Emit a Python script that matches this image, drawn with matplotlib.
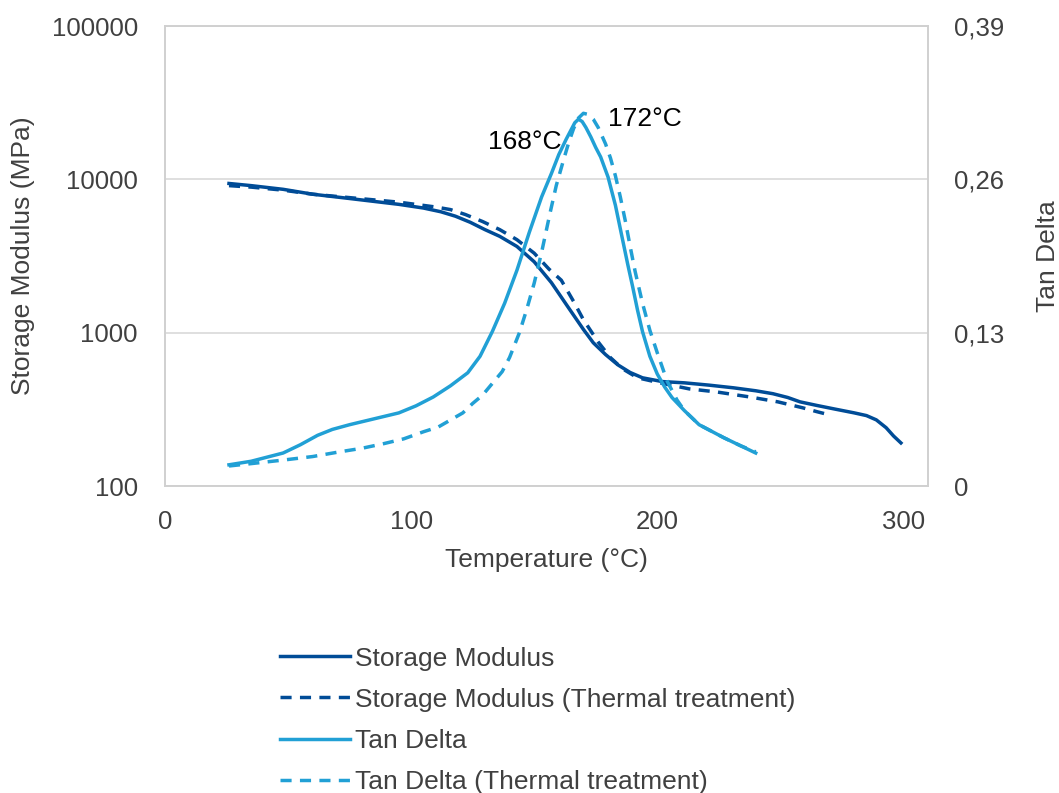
import matplotlib
matplotlib.use('Agg')
import matplotlib.pyplot as plt
from matplotlib.ticker import FixedLocator, NullLocator

plt.rcParams['font.family'] = ['Liberation Sans', 'DejaVu Sans']

DARK_BLUE = '#004C97'
LIGHT_BLUE = '#21A0D5'
TEXT_GRAY = '#404040'
FRAME_GRAY = '#D0D0D0'

# Storage modulus (MPa)
sm_temp = [26, 35, 48, 60, 75, 95, 105, 112, 118, 124, 130, 136, 143, 150, 157, 164, 170,
           174, 179, 184, 189, 194, 202, 211, 221, 231, 240, 247, 253, 258, 265, 272,
           280, 285, 289, 293, 296, 299]
sm_value = [9400, 9100, 8610, 8000, 7500, 6870, 6500, 6150, 5750, 5250, 4700, 4250, 3650,
            2900, 2120, 1450, 1050, 860, 720, 617, 550, 508, 480, 471, 455, 437, 418, 400,
            378, 354, 335, 318, 300, 288, 270, 240, 212, 191]

sm_tt_temp = [26, 35, 48, 60, 75, 95, 110, 116, 122, 129, 136, 143, 150, 156, 161, 166,
              170, 176, 181, 186, 192, 201, 213, 224, 238, 249, 259, 265, 270]
sm_tt_value = [9100, 8900, 8500, 8000, 7600, 7100, 6600, 6350, 5900, 5310, 4700, 4040,
               3300, 2600, 2200, 1600, 1215, 870, 687, 580, 508, 471, 430, 411, 380, 354,
               324, 305, 291]

# Tan delta
td_temp = [26, 35, 48, 55, 62, 68, 75, 85, 95, 102, 109, 116, 123, 128, 133, 138, 143,
           148, 153, 157, 160, 163, 165, 166.5, 168, 169.5, 171, 173, 175, 177, 180, 183,
           186, 188, 190, 192, 194, 197, 200, 203, 206, 211, 217, 227, 234, 240]
td_value = [0.018, 0.021, 0.028, 0.035, 0.043, 0.048, 0.052, 0.057, 0.062, 0.068, 0.0755,
            0.085, 0.096, 0.11, 0.131, 0.155, 0.183, 0.215, 0.245, 0.265, 0.281, 0.294,
            0.302, 0.308, 0.311, 0.309, 0.304, 0.296, 0.287, 0.279, 0.262, 0.238, 0.208,
            0.188, 0.169, 0.149, 0.131, 0.110, 0.095, 0.084, 0.075, 0.064, 0.052, 0.041,
            0.034, 0.028]

td_tt_temp = [26, 35, 48, 60, 71, 80, 89, 97, 105, 111, 116, 121, 125, 129, 133, 137, 140,
              144, 147, 150, 153, 156.5, 159, 162, 164, 166, 168, 170, 172, 174, 176, 179,
              181, 183, 185, 187, 189, 191, 194, 197, 200, 204, 208, 211, 217, 227, 234,
              240]
td_tt_value = [0.017, 0.019, 0.022, 0.025, 0.029, 0.032, 0.036, 0.040, 0.046, 0.050, 0.056,
               0.062, 0.070, 0.077, 0.087, 0.097, 0.109, 0.130, 0.150, 0.172, 0.198, 0.232,
               0.255, 0.277, 0.291, 0.303, 0.312, 0.316, 0.315, 0.311, 0.304, 0.290, 0.278,
               0.263, 0.245, 0.225, 0.203, 0.182, 0.155, 0.132, 0.113, 0.089, 0.073, 0.064,
               0.052, 0.041, 0.034, 0.029]

peak_labels = [(146.3, 0.292, '168°C'), (195, 0.311, '172°C')]

fig = plt.figure(figsize=(10.59, 7.93), dpi=100)
ax = fig.add_axes([0.1558, 0.3871, 0.7205, 0.5801])
ax2 = ax.twinx()

dash = (3.2, 2.4)
l1, = ax.plot(sm_temp, sm_value, color=DARK_BLUE, lw=2.5, label='Storage Modulus')
l2, = ax.plot(sm_tt_temp, sm_tt_value, color=DARK_BLUE, lw=2.5, dashes=dash,
              label='Storage Modulus (Thermal treatment)')
l3, = ax2.plot(td_temp, td_value, color=LIGHT_BLUE, lw=2.5, label='Tan Delta')
l4, = ax2.plot(td_tt_temp, td_tt_value, color=LIGHT_BLUE, lw=2.5, dashes=dash,
               label='Tan Delta (Thermal treatment)')

ax.set_yscale('log')
ax.set_xlim(0, 310)
ax.set_ylim(100, 100000)
ax2.set_ylim(0, 0.39)

ax.xaxis.set_major_locator(FixedLocator([0, 100, 200, 300]))
ax.yaxis.set_major_locator(FixedLocator([100, 1000, 10000, 100000]))
ax.yaxis.set_minor_locator(NullLocator())
ax.set_yticklabels(['100', '1000', '10000', '100000'])
ax2.yaxis.set_major_locator(FixedLocator([0, 0.13, 0.26, 0.39]))
ax2.set_yticklabels(['0', '0,13', '0,26', '0,39'])

ax.grid(axis='y', color='#D9D9D9', lw=1.2)
ax.set_axisbelow(True)

for a in (ax, ax2):
    for s in a.spines.values():
        s.set_color(FRAME_GRAY)
        s.set_linewidth(1.2)
    a.tick_params(length=0, labelsize=18.5, labelcolor=TEXT_GRAY)
ax.tick_params(axis='x', pad=17)
ax.tick_params(axis='y', pad=19.5)
ax2.tick_params(axis='y', pad=18.5)

ax.set_xlabel('Temperature (°C)', fontsize=19, color=TEXT_GRAY, labelpad=10)
ax.set_ylabel('Storage Modulus (MPa)', fontsize=19, color=TEXT_GRAY, labelpad=12)
ax2.set_ylabel('Tan Delta', fontsize=19, color=TEXT_GRAY, labelpad=23)

for x, y, txt in peak_labels:
    ax2.text(x, y, txt, fontsize=19, color='black', ha='center', va='center')

fig.legend(handles=[l1, l2, l3, l4], loc='upper left', bbox_to_anchor=(0.252, 0.2013),
           frameon=False, fontsize=19, handlelength=2.65, handletextpad=0.2,
           labelspacing=0.65, labelcolor=TEXT_GRAY, borderpad=0)

fig.savefig('out.png', dpi=100)
